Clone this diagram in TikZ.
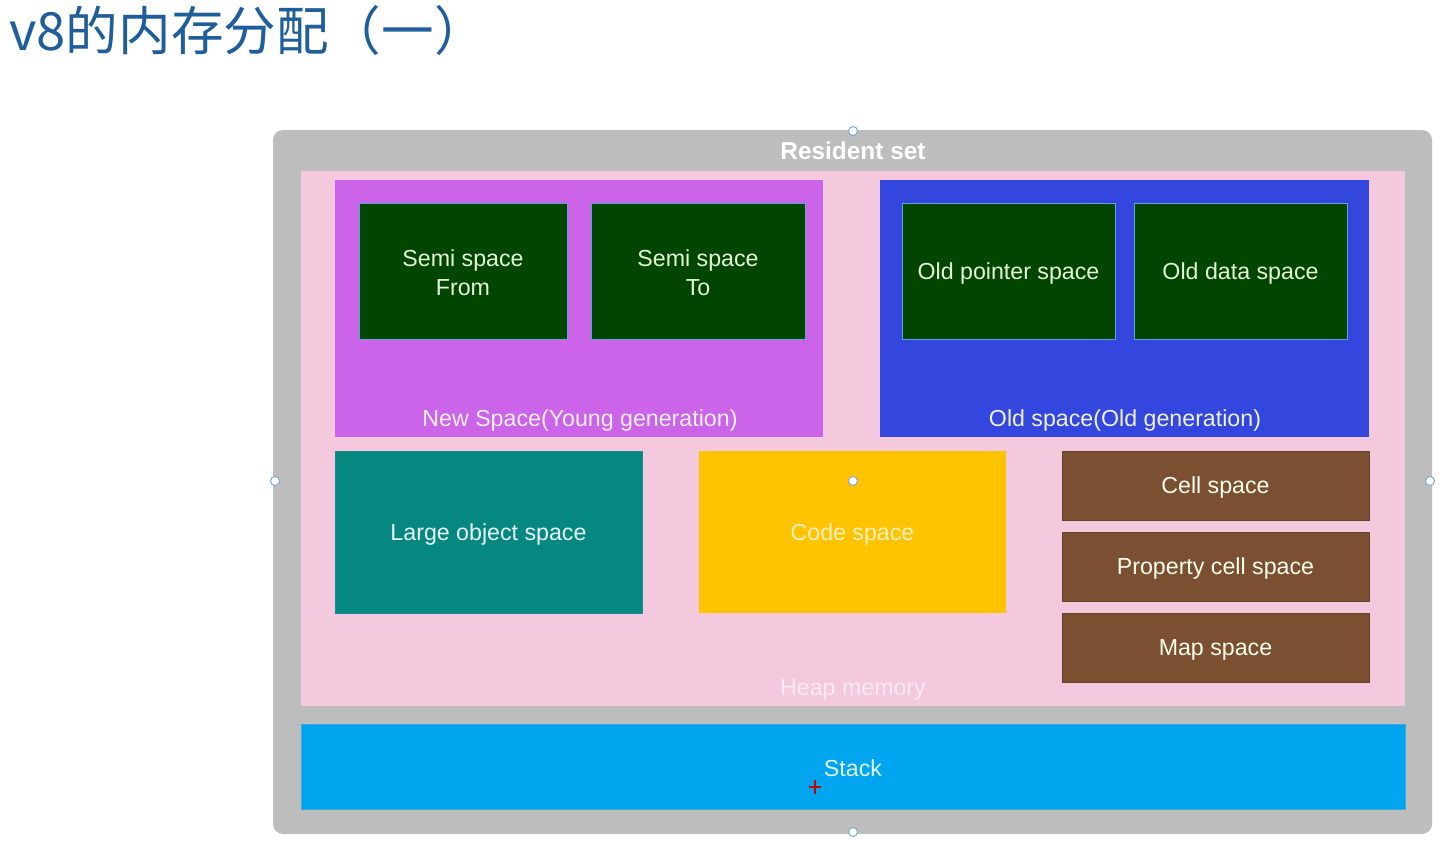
\documentclass[tikz,border=0pt]{standalone}
\usepackage{fontspec}
\setmainfont{Liberation Sans}
\newfontfamily\cjk{Noto Sans CJK SC}
\usetikzlibrary{fit}
\definecolor{rsgray}{HTML}{BDBDBD}
\definecolor{heappink}{HTML}{F4C8DD}
\definecolor{newpurple}{HTML}{CB64E8}
\definecolor{oldblue}{HTML}{3347DE}
\definecolor{dkgreen}{HTML}{004600}
\definecolor{lotteal}{HTML}{06877F}
\definecolor{codeyellow}{HTML}{FFC300}
\definecolor{cellbrown}{HTML}{7A4F32}
\definecolor{stackblue}{HTML}{00A5F0}
\definecolor{edgeblue}{HTML}{5AA6D6}
\definecolor{lgtext}{HTML}{E4F4D8}
\definecolor{titleblue}{HTML}{1F5E9A}
\definecolor{handle}{HTML}{7FA8D8}
\tikzset{
  region/.style={inner sep=0pt, outer sep=0pt},
  gbox/.style={region, fill=dkgreen, draw=edgeblue, line width=0.4pt},
  bbox/.style={region, fill=cellbrown, draw=cellbrown!85!black, line width=0.3pt},
  lbl/.style={inner sep=0pt, font=\fontsize{11.6}{14.5}\selectfont, yshift=-1pt},
  hdl/.style={circle, draw=handle, fill=white, line width=0.5pt, inner sep=0pt, minimum size=4.5pt},
}
\begin{document}
\begin{tikzpicture}[x=0.5pt,y=-0.5pt]
\useasboundingbox[fill=white] (0,0) rectangle (1451,846);
% title
\node[anchor=west, inner sep=0pt, text=titleblue, font=\cjk\fontsize{26.3}{30}\selectfont] (title) at (9,31) {v8的内存分配（一）};
% resident set
\fill[rsgray, rounded corners=5pt] (273,130) rectangle (1432,834);
\node[lbl, font=\bfseries\fontsize{12.2}{14}\selectfont, text=white] (rs) at (853,149) {Resident set};
% heap
\node[region, fill=heappink, fit={(301,171)(1405,706)}] (heap) {};
\node[lbl, text=white!60!heappink] (heaplbl) at (853,688) {Heap memory};
% new space
\node[region, fill=newpurple, fit={(335,180)(823,437)}] (newsp) {};
\node[lbl, text=white!90!newpurple] (newlbl) at (580,418) {New Space(Young generation)};
\node[gbox, fit={(359,203)(567,339)}] (from) {};
\node[lbl, text=lgtext, align=center] (fromlbl) at (from.center) {Semi space\\From};
\node[gbox, fit={(591,203)(805,339)}] (to) {};
\node[lbl, text=lgtext, align=center] (tolbl) at (to.center) {Semi space\\To};
% old space
\node[region, fill=oldblue, fit={(880,180)(1369,437)}] (oldsp) {};
\node[lbl, text=white!92!oldblue] (oldlbl) at (1125,418) {Old space(Old generation)};
\node[gbox, fit={(902,203)(1115,339)}] (optr) {};
\node[lbl, text=lgtext] (optrlbl) at (optr.center) {Old pointer space};
\node[gbox, fit={(1134,203)(1347,339)}] (odata) {};
\node[lbl, text=lgtext] (odatalbl) at (odata.center) {Old data space};
% large object
\node[region, fill=lotteal, draw=lotteal!80!edgeblue, line width=0.3pt, fit={(335,451)(642,613)}] (lo) {};
\node[lbl, text=white!90!cyan] (lolbl) at (lo.center) {Large object space};
% code space
\node[region, fill=codeyellow, fit={(699,451)(1006,613)}] (code) {};
\node[lbl, text=white!75!codeyellow] (codelbl) at (code.center) {Code space};
% cells
\node[bbox, fit={(1062,451)(1369,520)}] (cell) {};
\node[lbl, text=white!92!yellow] (celllbl) at (cell.center) {Cell space};
\node[bbox, fit={(1062,532)(1369,601)}] (pcell) {};
\node[lbl, text=white!92!yellow] (pcelllbl) at (pcell.center) {Property cell space};
\node[bbox, fit={(1062,613)(1369,682)}] (map) {};
\node[lbl, text=white!92!yellow] (maplbl) at (map.center) {Map space};
% stack
\node[region, fill=stackblue, draw=edgeblue!70!stackblue, line width=0.4pt, fit={(301,724)(1405,809)}] (stack) {};
\node[lbl, text=white!88!cyan] (stacklbl) at (853,766) {Stack};
% editor handles
\node[hdl] (h1) at (853,131) {};
\node[hdl] (h2) at (853,832) {};
\node[hdl] (h3) at (275,481) {};
\node[hdl] (h4) at (1430,481) {};
\node[hdl] (h5) at (853,481) {};
\coordinate (cross) at (815,787);
\draw[red!80!black, line width=0.8pt] ([xshift=-3pt]cross) -- ([xshift=3pt]cross) ([yshift=-3.5pt]cross) -- ([yshift=3.5pt]cross);
\end{tikzpicture}
\end{document}
